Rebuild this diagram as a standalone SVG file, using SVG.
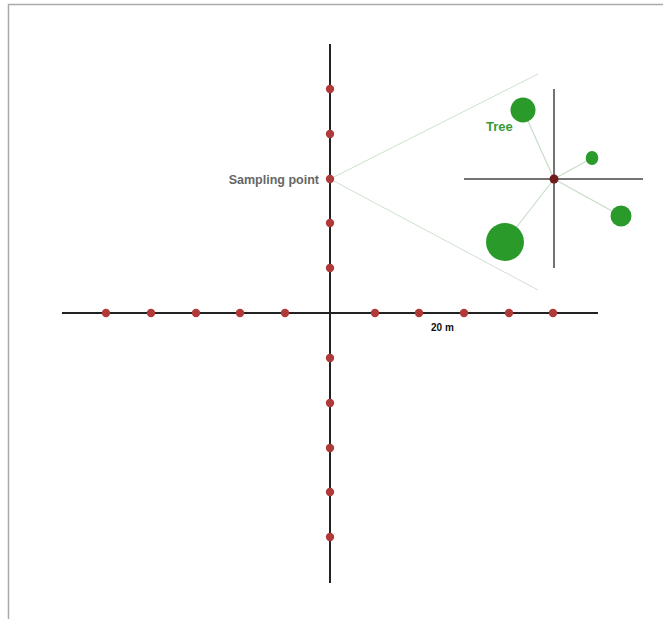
<svg xmlns="http://www.w3.org/2000/svg" width="663" height="619" viewBox="0 0 663 619">
<style>
.axis{stroke:#222;stroke-width:2;fill:none}
.cross{stroke:#444;stroke-width:1.5;fill:none}
.view{stroke:#cfe0cf;stroke-width:1;fill:none}
.link{stroke:#c8dcc8;stroke-width:1.2;fill:none}
.pt{fill:#b03a3a}
.tree{fill:#2a9a2a}
.lbl{font-family:"Liberation Sans",Arial,sans-serif;font-weight:bold}
</style>
<rect width="663" height="619" fill="#fff"/>
<path d="M8.5 619V4.5H663" stroke="#aaa" stroke-width="1.5" fill="none"/>
<g id="connectors">
<line class="axis" x1="330" y1="44" x2="330" y2="583"/>
<line class="axis" x1="62" y1="313" x2="598" y2="313"/>
<line class="view" x1="330" y1="179" x2="538" y2="74"/>
<line class="view" x1="330" y1="179" x2="538" y2="290"/>
<line class="cross" x1="554" y1="89" x2="554" y2="268"/>
<line class="cross" x1="464" y1="179" x2="643" y2="179"/>
<line class="link" x1="554" y1="179" x2="523" y2="110"/>
<line class="link" x1="554" y1="179" x2="592" y2="158"/>
<line class="link" x1="554" y1="179" x2="621" y2="216"/>
<line class="link" x1="554" y1="179" x2="505" y2="242"/>
</g>
<g id="points">
<circle class="pt" cx="330" cy="89" r="4.2"/>
<circle class="pt" cx="330" cy="134" r="4.2"/>
<circle class="pt" cx="330" cy="223" r="4.2"/>
<circle class="pt" cx="330" cy="268" r="4.2"/>
<circle class="pt" cx="330" cy="358" r="4.2"/>
<circle class="pt" cx="330" cy="403" r="4.2"/>
<circle class="pt" cx="330" cy="448" r="4.2"/>
<circle class="pt" cx="330" cy="492" r="4.2"/>
<circle class="pt" cx="330" cy="537" r="4.2"/>
<circle class="pt" cx="106" cy="313" r="4.2"/>
<circle class="pt" cx="151" cy="313" r="4.2"/>
<circle class="pt" cx="196" cy="313" r="4.2"/>
<circle class="pt" cx="240" cy="313" r="4.2"/>
<circle class="pt" cx="285" cy="313" r="4.2"/>
<circle class="pt" cx="375" cy="313" r="4.2"/>
<circle class="pt" cx="419" cy="313" r="4.2"/>
<circle class="pt" cx="464" cy="313" r="4.2"/>
<circle class="pt" cx="509" cy="313" r="4.2"/>
<circle class="pt" cx="553" cy="313" r="4.2"/>
</g>
<g id="sampling-point">
<circle class="pt" cx="330" cy="179" r="4.2"/>
<text class="lbl" x="319" y="183.5" text-anchor="end" font-size="12.5" fill="#666">Sampling point</text>
</g>
<g id="center">
<circle cx="554" cy="179" r="4.5" fill="#6e1c1c"/>
</g>
<g id="tree1">
<circle class="tree" cx="523" cy="110" r="12.5"/>
<text class="lbl" x="486" y="131" font-size="13" fill="#3a9a3a">Tree</text>
</g>
<g id="tree2"><ellipse class="tree" cx="592" cy="158" rx="6.3" ry="7"/></g>
<g id="tree3"><circle class="tree" cx="621" cy="216" r="10.5"/></g>
<g id="tree4"><circle class="tree" cx="505" cy="242" r="19"/></g>
<g id="scale">
<text class="lbl" x="431" y="330.5" font-size="10" fill="#111">20 m</text>
</g>
</svg>
